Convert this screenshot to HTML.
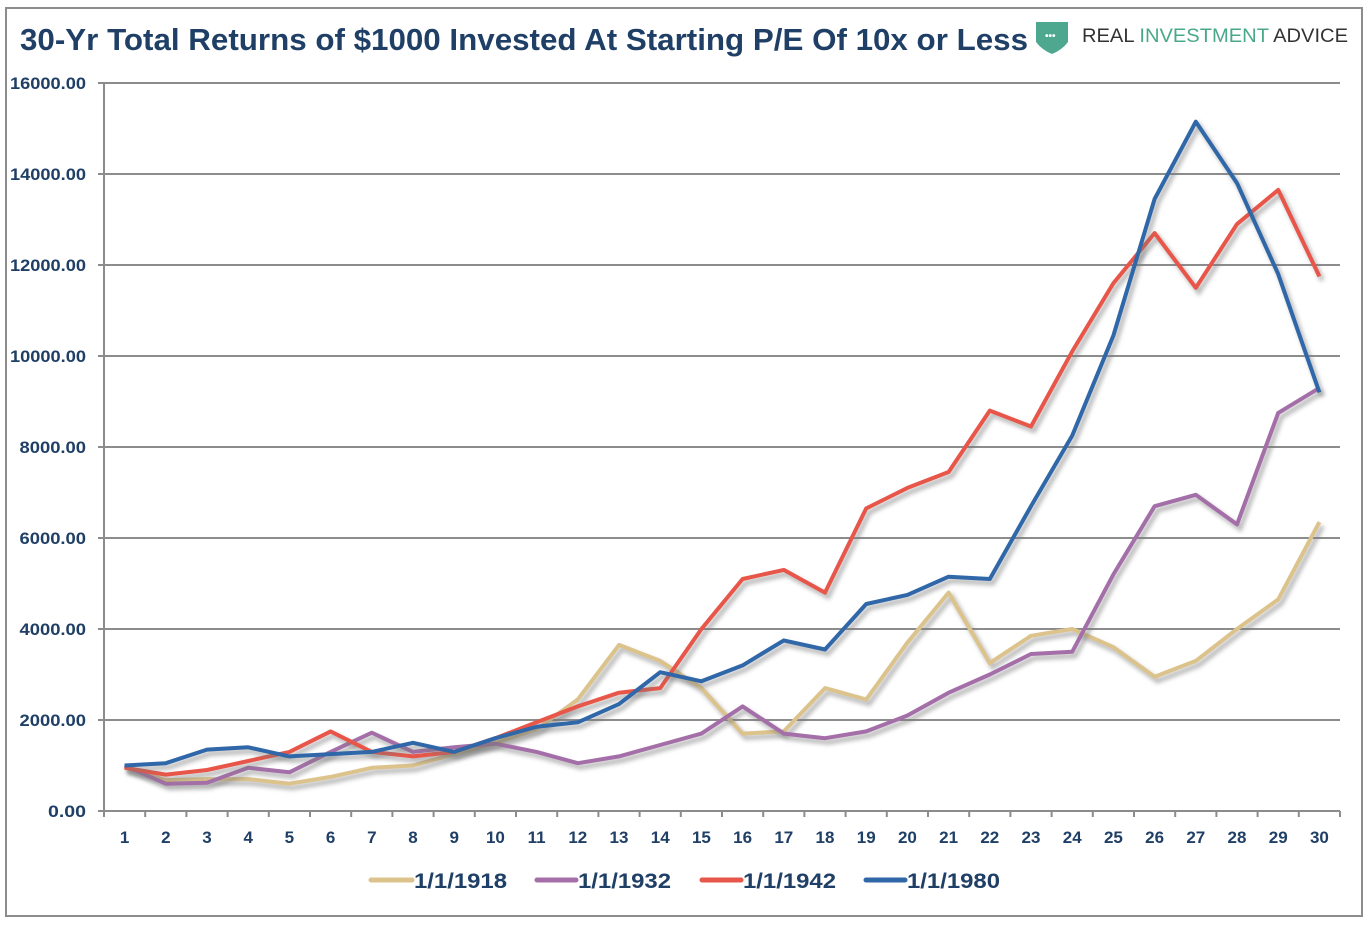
<!DOCTYPE html>
<html><head><meta charset="utf-8"><style>
body{margin:0;background:#fff;}
svg{display:block}
</style></head><body>
<svg width="1370" height="929" xmlns="http://www.w3.org/2000/svg" font-family="Liberation Sans, sans-serif">
<defs><filter id="sh" x="-5%" y="-5%" width="110%" height="110%"><feGaussianBlur stdDeviation="2"/></filter></defs>
<rect x="6" y="8" width="1356" height="908" fill="#fff" stroke="#8c8c8c" stroke-width="2"/>
<text x="20" y="50" font-size="31" font-weight="bold" fill="#1f3f66" textLength="1008" lengthAdjust="spacingAndGlyphs">30-Yr Total Returns of $1000 Invested At Starting P/E Of 10x or Less</text>
<path d="M1036 22 L1068 22 L1068 42 Q1062 50 1052 54 Q1042 50 1036 42 Z" fill="#4da88f"/>
<text x="1045" y="39" font-size="10" fill="#fff" font-weight="bold">•••</text>
<text x="1082" y="42" font-size="19" fill="#333" textLength="266" lengthAdjust="spacingAndGlyphs">REAL <tspan fill="#4aa88a">INVESTMENT</tspan> ADVICE</text>
<g id="grid" stroke="#8c8c8c" stroke-width="2"></g>
<g id="lab" font-size="17" font-weight="bold" fill="#1f3f66"></g>
<g id="series"></g>
<g font-size="21" font-weight="bold" fill="#1f3f66">
<line x1="371" y1="880" x2="412" y2="880" stroke="#dcc38c" stroke-width="5" stroke-linecap="round"/><text x="414" y="888" textLength="93" lengthAdjust="spacingAndGlyphs">1/1/1918</text>
<line x1="537" y1="880" x2="576" y2="880" stroke="#a46fa8" stroke-width="5" stroke-linecap="round"/><text x="578" y="888" textLength="93" lengthAdjust="spacingAndGlyphs">1/1/1932</text>
<line x1="702" y1="880" x2="741" y2="880" stroke="#e8564a" stroke-width="5" stroke-linecap="round"/><text x="743" y="888" textLength="93" lengthAdjust="spacingAndGlyphs">1/1/1942</text>
<line x1="866" y1="880" x2="905" y2="880" stroke="#2f67a8" stroke-width="5" stroke-linecap="round"/><text x="907" y="888" textLength="93" lengthAdjust="spacingAndGlyphs">1/1/1980</text>
</g>
</svg>
<script>
const NS="http://www.w3.org/2000/svg";
const L=104,R=1340,Y0=811,S=(811-83)/16000,W=(R-L)/30;
function el(t,a,p){const e=document.createElementNS(NS,t);for(const k in a)e.setAttribute(k,a[k]);if(p)p.appendChild(e);return e;}
const g=document.getElementById('grid'),lab=document.getElementById('lab');
for(let v=0;v<=16000;v+=2000){const y=Y0-v*S;el('line',{x1:L-6,x2:R,y1:y,y2:y},g);const s=v.toFixed(2);const t=el('text',{x:86,y:y+6,'text-anchor':'end',textLength:s.length*9.5,lengthAdjust:'spacingAndGlyphs'},lab);t.textContent=s;}
el('line',{x1:L,x2:L,y1:83,y2:Y0},g);
for(let i=0;i<=30;i++){const x=L+i*W;el('line',{x1:x,x2:x,y1:Y0,y2:Y0+6},g);}
for(let i=1;i<=30;i++){const t=el('text',{x:L+(i-0.5)*W,y:843,'text-anchor':'middle'},lab);t.textContent=i;}
const D=[
["#dcc38c",[970,680,700,700,600,750,950,1000,1250,1500,1800,2450,3650,3300,2700,1700,1750,2700,2450,3700,4800,3250,3850,4000,3600,2950,3300,4000,4650,6350]],
["#a46fa8",[1000,600,620,950,850,1300,1720,1300,1400,1480,1300,1050,1200,1450,1700,2300,1700,1600,1750,2100,2600,3000,3450,3500,5200,6700,6950,6300,8750,9300]],
["#e8564a",[950,800,900,1100,1300,1750,1300,1200,1300,1600,1950,2300,2600,2700,4000,5100,5300,4800,6650,7100,7450,8800,8450,10100,11600,12700,11500,12900,13650,11750]],
["#2f67a8",[1000,1050,1350,1400,1200,1250,1300,1500,1300,1600,1850,1950,2350,3050,2850,3200,3750,3550,4550,4750,5150,5100,6700,8250,10450,13450,15150,13800,11800,9200]]];
const s=document.getElementById('series');
D.forEach(([c,v])=>{const pts=v.map((d,i)=>(L+(i+0.5)*W).toFixed(1)+','+(Y0-d*S).toFixed(1)).join(' ');
el('polyline',{points:pts,fill:'none',stroke:'#777','stroke-width':5,opacity:0.5,filter:'url(#sh)',transform:'translate(3,4)'},s);
el('polyline',{points:pts,fill:'none',stroke:c,'stroke-width':4,'stroke-linejoin':'round'},s);});
</script>
</body></html>
